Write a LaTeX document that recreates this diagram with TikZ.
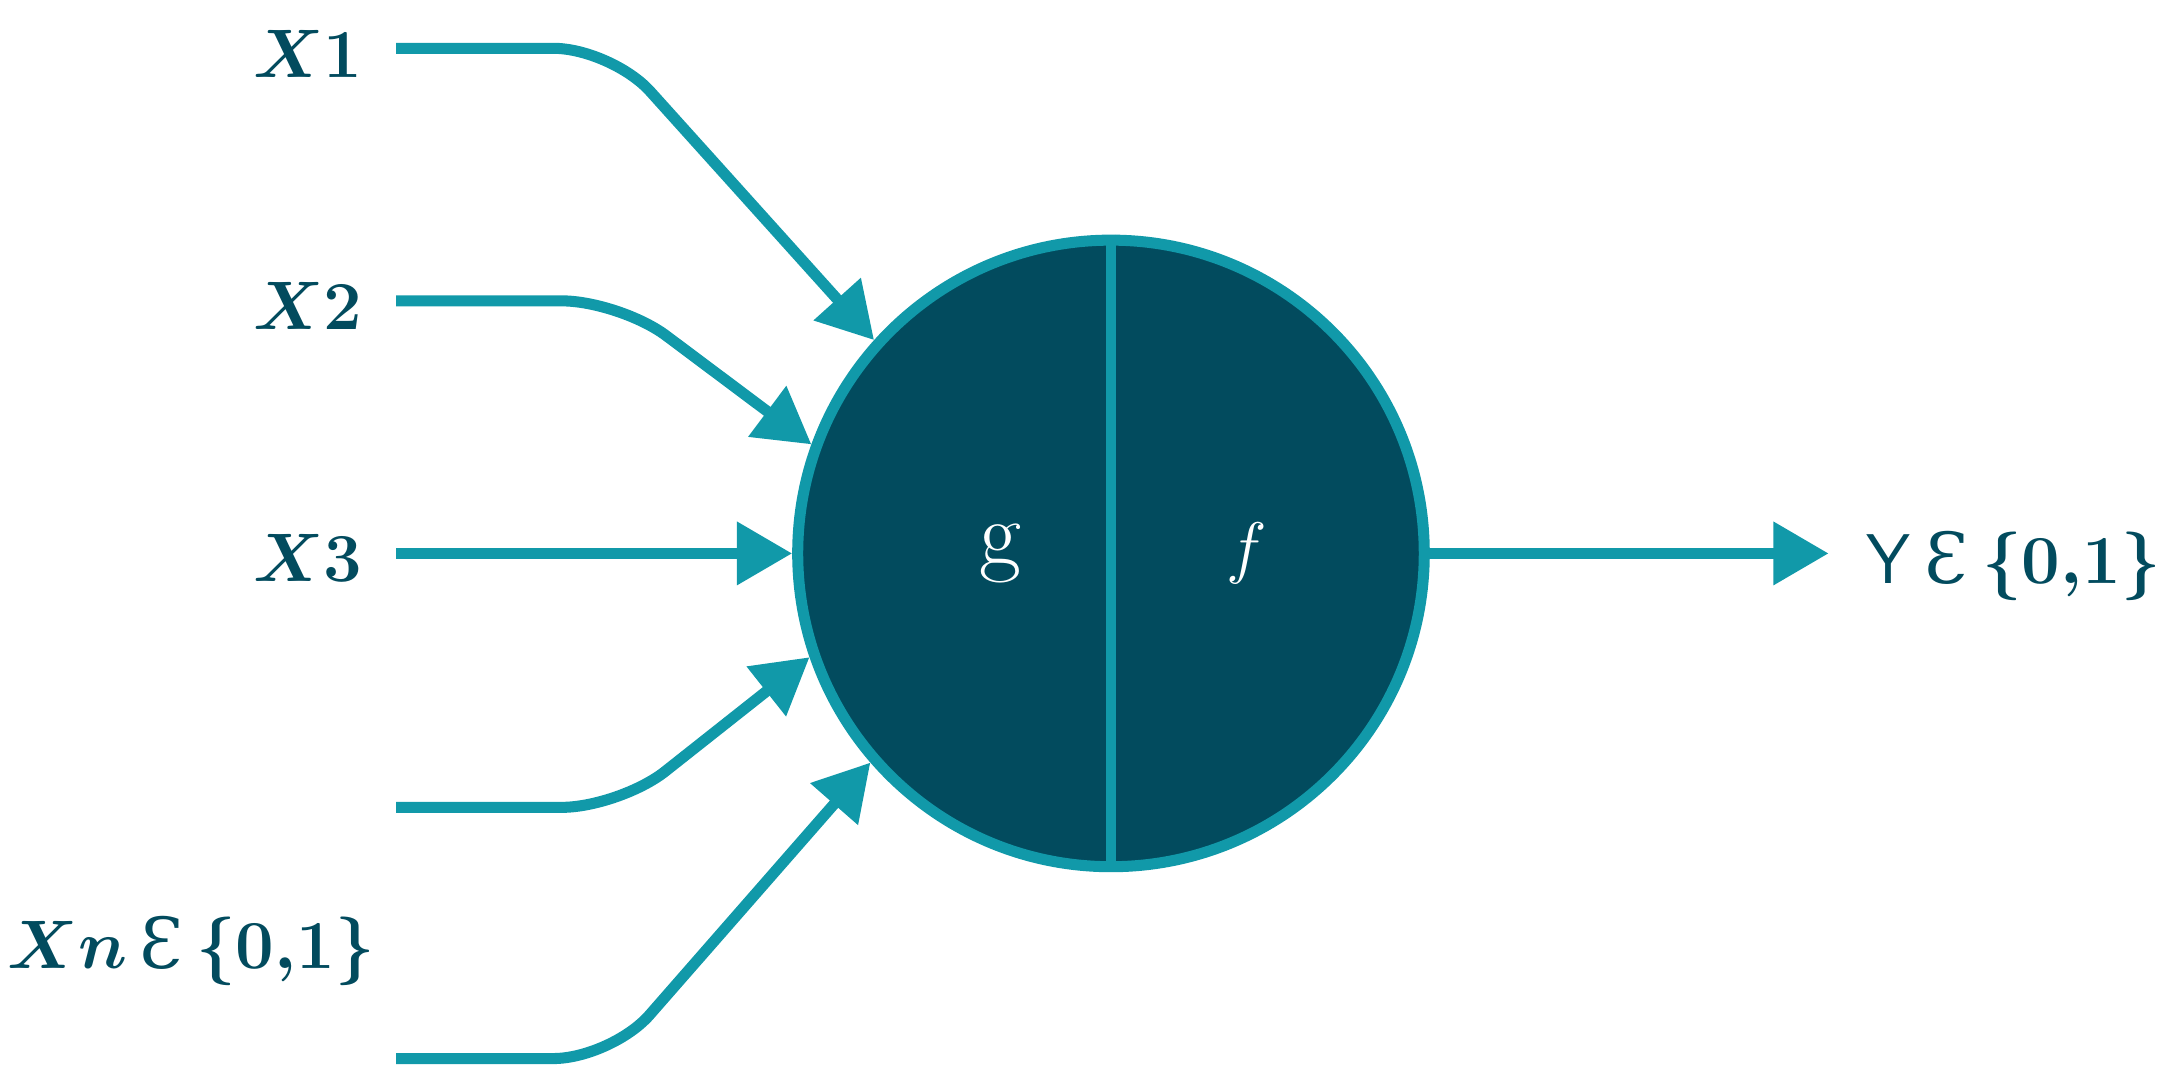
\documentclass[tikz,border=0pt]{standalone}
\usepackage{fontspec}
\newfontfamily\epsfont{DejaVu Serif}
\usetikzlibrary{arrows.meta}
\definecolor{lineteal}{HTML}{1199A9}
\definecolor{darkteal}{HTML}{024B5E}
\begin{document}
\begin{tikzpicture}[x=0.5pt,y=-0.5pt,
  conn/.style={draw=lineteal, line width=4pt, rounded corners=21pt, -{Triangle[length=20pt,width=22pt]}},
  lbl/.style={text=darkteal, font=\fontsize{25.5}{30}\selectfont\boldmath, inner sep=0pt},
  inlbl/.style={text=white, font=\fontsize{33}{36}\selectfont, inner sep=0pt}]
\useasboundingbox (0,0) rectangle (1568,791);
\node[circle, draw=lineteal, fill=darkteal, line width=4pt, minimum size=227pt, inner sep=0pt] (neuron) at (805,401) {};
\draw[lineteal, line width=3.5pt] (neuron.north) -- (neuron.south);
\node[inlbl] (g) at (725,401) {g};
\node[inlbl] (f) at (903,401) {$f$};
% labels
\node[lbl, anchor=base east] (x1) at (263,56) {$X1$};
\node[lbl, anchor=base east] (x2) at (263,238.5) {$X2$};
\node[lbl, anchor=base east] (x3) at (263,421.5) {$X3$};
\node[lbl, anchor=base] (xn) at (138.5,702) {$Xn$\hspace{0.18em}{\epsfont\mdseries Ɛ}\hspace{0.18em}$\{0{,}1\}$};
\node[lbl, anchor=base west] (y) at (1352,423) {\sffamily Y\hspace{0.2em}{\epsfont\mdseries Ɛ}\hspace{0.2em}$\{0{,}1\}$};
% connector points
\coordinate (s1) at (287,35);  \coordinate (c1) at (443,35);
\coordinate (s2) at (287,218); \coordinate (c2) at (449,218);
\coordinate (s3) at (287,401);
\coordinate (s4) at (287,585); \coordinate (c4) at (449,585);
\coordinate (s5) at (287,767); \coordinate (c5) at (443,767);
\coordinate (o) at (1325,401);
\draw[conn] (s1) -- (c1) -- (neuron.138.8);
\draw[conn] (s2) -- (c2) -- (neuron.160.8);
\draw[conn] (s3) -- (neuron.west);
\draw[conn] (s4) -- (c4) -- (neuron.199.2);
\draw[conn] (s5) -- (c5) -- (neuron.221.2);
\draw[conn] (neuron.east) -- (o);
\end{tikzpicture}
\end{document}
